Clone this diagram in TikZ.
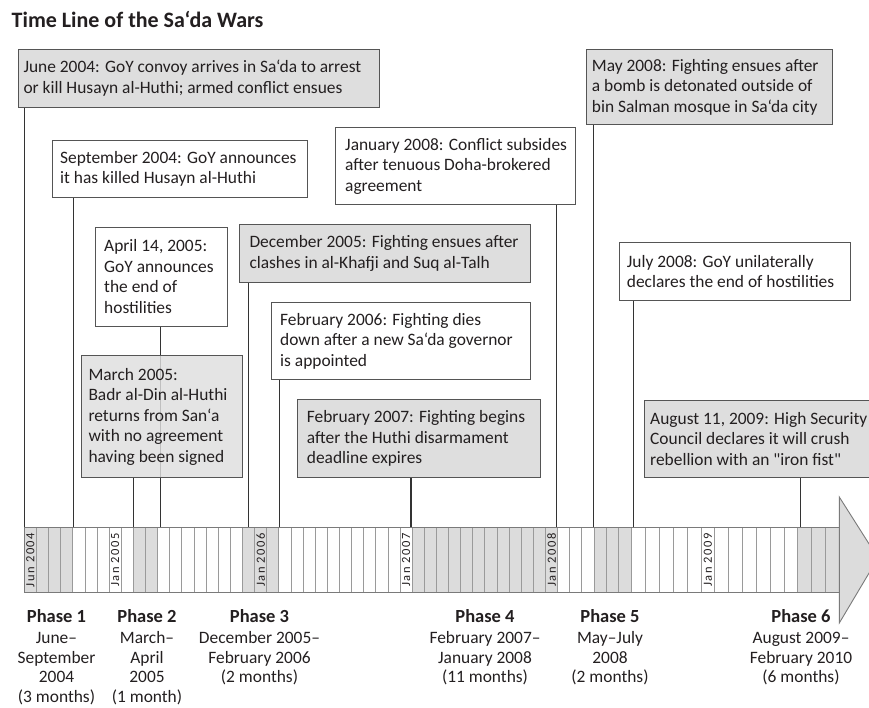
\documentclass[tikz,border=0pt]{standalone}
\usepackage{fontspec}
\setmainfont{Carlito}
\newfontfamily\monthfont[LetterSpace=12]{Carlito}
\newfontfamily\plainfont{Carlito}
\definecolor{ink}{HTML}{231F20}
\definecolor{boxgray}{HTML}{DEDEDE}
\definecolor{cellgray}{HTML}{DCDCDC}
\definecolor{edge}{HTML}{555555}
\definecolor{divider}{HTML}{9A9A9A}
\definecolor{barline}{HTML}{7A7A7A}
\definecolor{connink}{HTML}{333333}
\pgfdeclarelayer{bg}
\pgfsetlayers{bg,main}
\begin{document}
\begin{tikzpicture}[x=1pt,y=-1pt,
  declare function={bx(\k)=(\k<=49)*(24.3+12.12*\k)+(\k>49)*(617.9+13.84*(\k-49));},
  evbox/.style={draw=edge, line width=1pt, anchor=north west, inner sep=0pt},
  graybox/.style={evbox, fill=boxgray},
  whitebox/.style={evbox, fill=white},
  evtext/.style={anchor=west, inner sep=0pt, align=left, text=ink,
    font=\fontsize{17.4}{20.5}\selectfont},
  conn/.style={draw=connink, line width=1.4pt},
  phase/.style={anchor=north, inner sep=0pt, align=center, text=ink,
    font=\fontsize{17.4}{19.5}\selectfont},
  monthlbl/.style={rotate=90, inner sep=0pt, text=ink,
    font=\monthfont\fontsize{12.5}{12.5}\selectfont},
]
\useasboundingbox (0,0) rectangle (869,707);

% title
\node[anchor=west, inner sep=0pt, text=ink, font=\bfseries\fontsize{22}{24}\selectfont]
  (title) at (11.5,19.5) {Time Line of the Sa‘da Wars};

% event boxes
\node[graybox, minimum width=361.3, minimum height=57.7] (b1) at (17.7,49) {};
\node[evtext] (b1t) at ([xshift=5.6pt]b1.west) {June 2004: GoY convoy arrives in Sa‘da to arrest\\or kill Husayn al-Huthi; armed conflict ensues};

\node[whitebox, minimum width=255, minimum height=56.7] (b2) at (52,140) {};
\node[evtext] (b2t) at ([xshift=8pt]b2.west) {September 2004: GoY announces\\it has killed Husayn al-Huthi};

\node[whitebox, minimum width=131.7, minimum height=99] (b3) at (95,226.7) {};
\node[evtext] (b3t) at ([xshift=9pt]b3.west) {April 14, 2005:\\GoY announces\\the end of\\hostilities};

\node[graybox, fill opacity=0.82, text opacity=1, minimum width=161, minimum height=122] (b4) at (80.7,355) {};
\node[evtext] (b4t) at ([xshift=7.6pt]b4.west) {March 2005:\\Badr al-Din al-Huthi\\returns from San‘a\\with no agreement\\having been signed};

\node[graybox, minimum width=291.3, minimum height=58] (b5) at (238.7,224) {};
\node[evtext] (b5t) at ([xshift=10.6pt]b5.west) {December 2005: Fighting ensues after\\clashes in al-Khafji and Suq al-Talh};

\node[whitebox, minimum width=259, minimum height=77] (b6) at (271,302) {};
\node[evtext] (b6t) at ([xshift=9pt]b6.west) {February 2006: Fighting dies\\down after a new Sa‘da governor\\is appointed};

\node[graybox, minimum width=243.3, minimum height=78] (b7) at (296.7,399.3) {};
\node[evtext] (b7t) at ([xshift=10pt]b7.west) {February 2007: Fighting begins\\after the Huthi disarmament\\deadline expires};

\node[whitebox, minimum width=239.7, minimum height=76.7] (b8) at (335.3,127.3) {};
\node[evtext] (b8t) at ([xshift=9.7pt]b8.west) {January 2008: Conflict subsides\\after tenuous Doha-brokered\\agreement};

\node[graybox, minimum width=246, minimum height=75] (b9) at (585.7,49) {};
\node[evtext] (b9t) at ([xshift=6pt]b9.west) {May 2008: Fighting ensues after\\a bomb is detonated outside of\\bin Salman mosque in Sa‘da city};

\node[whitebox, minimum width=231, minimum height=58] (b10) at (619,242) {};
\node[evtext] (b10t) at ([xshift=7.7pt]b10.west) {July 2008: GoY unilaterally\\declares the end of hostilities};

\node[graybox, minimum width=240, minimum height=77] (b11) at (644,400) {};
\node[evtext, font=\plainfont\fontsize{17.4}{20.5}\selectfont] (b11t) at ([xshift=6pt]b11.west) {August 11, 2009: High Security\\Council declares it will crush\\rebellion with an "iron fist"};

% anchor points on the bar
\coordinate (t1) at (24.3,527.3);
\coordinate (t2) at (73.3,527.3);
\coordinate (t3) at (160.7,527.3);
\coordinate (t4) at (133.3,527.3);
\coordinate (t5) at (248.3,527.3);
\coordinate (t6) at (279.3,527.3);
\coordinate (t7) at (411,527.3);
\coordinate (t8) at (556.7,527.3);
\coordinate (t9) at (593.3,527.3);
\coordinate (t10) at (633.3,527.3);
\coordinate (t11) at (800.7,527.3);

\begin{pgfonlayer}{bg}
\foreach \i in {1,...,11} {
  \draw[conn] (b\i.south -| t\i) -- (t\i);
}
\end{pgfonlayer}

% time bar
\foreach \k in {0,1,2,3,9,10,18,19,20,32,33,34,35,36,37,38,39,40,41,42,43,47,48,49,62,63,64} {
  \fill[cellgray] ({bx(\k)},527.3) rectangle ({bx(\k+1)},592.3);
}
\foreach \k in {1,...,64} {
  \draw[divider, line width=0.8pt] ({bx(\k)},527.3) -- ({bx(\k)},592.3);
}
\draw[barline, line width=0.9pt] (24.3,527.3) rectangle (839.3,592.3);
\draw[barline, fill=cellgray, line width=0.9pt, line join=miter]
  (839.3,497) -- (878,558) -- (839.3,623) -- cycle;

\node[monthlbl] (m1) at ({(bx(0)+bx(1))/2},560) {Jun 2004};
\node[monthlbl] (m2) at ({(bx(7)+bx(8))/2},560) {Jan 2005};
\node[monthlbl] (m3) at ({(bx(19)+bx(20))/2},560) {Jan 2006};
\node[monthlbl] (m4) at ({(bx(31)+bx(32))/2},560) {Jan 2007};
\node[monthlbl] (m5) at ({(bx(43)+bx(44))/2},560) {Jan 2008};
\node[monthlbl] (m6) at ({(bx(55)+bx(56))/2},560) {Jan 2009};

% phases
\node[phase] (p1) at (56.5,609) {{\bfseries\fontsize{18.5}{20}\selectfont Phase 1}\\[2pt]June–\\September\\2004\\(3 months)};
\node[phase] (p2) at (147,609) {{\bfseries\fontsize{18.5}{20}\selectfont Phase 2}\\[2pt]March–\\April\\2005\\(1 month)};
\node[phase] (p3) at (259.5,609) {{\bfseries\fontsize{18.5}{20}\selectfont Phase 3}\\[2pt]December 2005–\\February 2006\\(2 months)};
\node[phase] (p4) at (485,609) {{\bfseries\fontsize{18.5}{20}\selectfont Phase 4}\\[2pt]February 2007–\\January 2008\\(11 months)};
\node[phase] (p5) at (610,609) {{\bfseries\fontsize{18.5}{20}\selectfont Phase 5}\\[2pt]May–July\\2008\\(2 months)};
\node[phase] (p6) at (801,609) {{\bfseries\fontsize{18.5}{20}\selectfont Phase 6}\\[2pt]August 2009–\\February 2010\\(6 months)};
\end{tikzpicture}
\end{document}
